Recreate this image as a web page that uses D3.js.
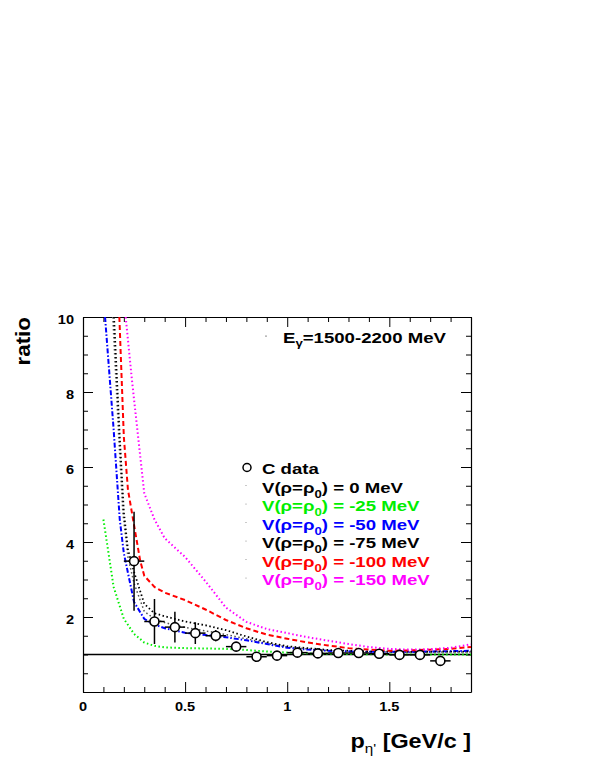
<!DOCTYPE html>
<html lang="en">
<head>
<meta charset="UTF-8">
<script src="https://d3js.org/d3.v7.min.js"></script>
<style>
  body { margin: 0; background: white; }
  text { font-family: "Liberation Sans", Arial, sans-serif; font-weight: bold; }
</style>
</head>
<body>
<div id="chart"></div>
<script>
// C data points
const dataX = [0.25, 0.35, 0.45, 0.55, 0.65, 0.75, 0.85, 0.95, 1.05, 1.15, 1.25, 1.35, 1.45, 1.55, 1.65, 1.75];
const dataY = [3.49, 1.88, 1.73, 1.57, 1.50, 1.21, 0.94, 0.97, 1.05, 1.03, 1.04, 1.04, 1.02, 0.99, 0.99, 0.83];
const dataErr = [1.32, 0.60, 0.41, 0.29, 0.15, 0.06, 0.04, 0.04, 0.04, 0.04, 0.04, 0.04, 0.04, 0.04, 0.04, 0.10];
const binHalf = 0.05;

// model curves
const v0X = [0.146, 0.175, 0.195, 0.22, 0.25, 0.3, 0.35, 0.4, 0.5, 0.6, 0.7, 0.8, 0.9, 1.0, 1.2, 1.4, 1.6, 1.9];
const v0Y = [10, 6.8, 4.8, 3.6, 2.9, 2.15, 1.95, 1.85, 1.72, 1.63, 1.53, 1.42, 1.3, 1.2, 1.1, 1.07, 1.06, 1.07];
const v25X = [0.1, 0.15, 0.2, 0.25, 0.3, 0.35, 0.4, 0.5, 0.6, 0.7, 0.8, 0.9, 1.0, 1.1, 1.2, 1.5, 1.9];
const v25Y = [4.6, 2.8, 1.95, 1.55, 1.32, 1.23, 1.19, 1.17, 1.16, 1.15, 1.12, 1.08, 1.05, 1.03, 1.02, 1.0, 1.0];
const v50X = [0.108, 0.15, 0.18, 0.2, 0.25, 0.3, 0.35, 0.4, 0.5, 0.6, 0.7, 0.8, 0.9, 1.0, 1.1, 1.2, 1.3, 1.5, 1.7, 1.9];
const v50Y = [10, 7.0, 4.6, 3.7, 2.4, 1.95, 1.8, 1.7, 1.58, 1.52, 1.46, 1.38, 1.28, 1.18, 1.13, 1.10, 1.08, 1.07, 1.08, 1.10];
const v75X = [0.152, 0.18, 0.2, 0.22, 0.25, 0.3, 0.35, 0.4, 0.5, 0.6, 0.7, 0.8, 0.9, 1.0, 1.2, 1.4, 1.6, 1.9];
const v75Y = [10, 6.8, 4.8, 3.8, 3.2, 2.35, 2.1, 2.02, 1.88, 1.78, 1.65, 1.48, 1.33, 1.22, 1.12, 1.08, 1.07, 1.08];
const v100X = [0.178, 0.2, 0.22, 0.25, 0.28, 0.3, 0.35, 0.4, 0.5, 0.6, 0.7, 0.8, 0.9, 1.0, 1.1, 1.2, 1.3, 1.4, 1.5, 1.6, 1.7, 1.8, 1.9];
const v100Y = [10, 6.8, 5.4, 4.45, 3.5, 3.1, 2.8, 2.65, 2.45, 2.2, 1.92, 1.7, 1.53, 1.42, 1.32, 1.24, 1.17, 1.13, 1.10, 1.11, 1.13, 1.15, 1.2];
const v150X = [0.209, 0.24, 0.27, 0.3, 0.35, 0.4, 0.5, 0.6, 0.7, 0.8, 0.9, 1.0, 1.1, 1.2, 1.3, 1.4, 1.5, 1.6, 1.7, 1.8, 1.9];
const v150Y = [10, 8.3, 6.8, 5.3, 4.6, 4.1, 3.6, 2.95, 2.25, 1.87, 1.68, 1.57, 1.46, 1.37, 1.28, 1.2, 1.15, 1.13, 1.14, 1.18, 1.27];

const xTicks = [0, 0.5, 1, 1.5];
const yTicks = [2, 4, 6, 8, 10];

const curves = [
  {x: v0X, y: v0Y, color: "#000000", stroke: "#555555", width: 1.5, dash: "1.5,2.5", label: "0 MeV"},
  {x: v25X, y: v25Y, color: "#00ee00", stroke: "#00ee00", width: 2, dash: "1.5,2.5", label: "-25 MeV"},
  {x: v50X, y: v50Y, color: "#0000ff", stroke: "#0000ff", width: 2, dash: "5,2,1.5,2", label: "-50 MeV"},
  {x: v75X, y: v75Y, color: "#000000", stroke: "#000000", width: 1.8, dash: "1.5,2.5", label: "-75 MeV"},
  {x: v100X, y: v100Y, color: "#ff0000", stroke: "#ff0000", width: 2, dash: "5,3", label: "-100 MeV"},
  {x: v150X, y: v150Y, color: "#ff00ff", stroke: "#ff00ff", width: 2, dash: "1.5,2.5", label: "-150 MeV"}
];

const W = 599, H = 775;
const fLeft = 83, fRight = 471, fTop = 317, fBottom = 692;
const stretch = 1.2; // text in the original is drawn a bit wide

const svg = d3.select("#chart").append("svg")
  .attr("width", W).attr("height", H);

const x = d3.scaleLinear().domain([0, 1.9]).range([fLeft, fRight]);
const y = d3.scaleLinear().domain([0, 10]).range([fBottom, fTop]);

// text helper: wide text anchored at (px,py)
function wideText(px, py, size, sx, anchor) {
  return svg.append("g").attr("transform", `translate(${px},${py}) scale(${sx},1)`)
    .append("text").attr("font-size", size).attr("text-anchor", anchor || "start");
}

// clip for curves
svg.append("clipPath").attr("id", "frame")
  .append("rect").attr("x", fLeft).attr("y", fTop)
  .attr("width", fRight - fLeft).attr("height", fBottom - fTop);

// axes: ticks inside on all four sides
const axB = d3.axisBottom(x).tickValues(d3.range(0, 1.9001, 0.1)).tickSizeInner(-5).tickSizeOuter(0).tickFormat("");
const axT = d3.axisTop(x).tickValues(d3.range(0, 1.9001, 0.1)).tickSizeInner(-5).tickSizeOuter(0).tickFormat("");
const axL = d3.axisLeft(y).tickValues(d3.range(0, 10.001, 0.5)).tickSizeInner(-5).tickSizeOuter(0).tickFormat("");
const axR = d3.axisRight(y).tickValues(d3.range(0, 10.001, 0.5)).tickSizeInner(-5).tickSizeOuter(0).tickFormat("");

function styleAxis(g, majors, scaleIsX, sign) {
  g.select(".domain").attr("stroke", "#000").attr("stroke-width", 1.2);
  g.selectAll(".tick line").attr("stroke", "#000").attr("stroke-width", 1)
    .each(function(d) {
      const major = majors.some(m => Math.abs(m - d) < 1e-6);
      if (major) d3.select(this).attr(scaleIsX ? "y2" : "x2", sign * 10);
    });
}

svg.append("g").attr("transform", `translate(0,${fBottom})`).call(axB)
  .call(g => styleAxis(g, xTicks, true, -1));
svg.append("g").attr("transform", `translate(0,${fTop})`).call(axT)
  .call(g => styleAxis(g, xTicks, true, 1));
svg.append("g").attr("transform", `translate(${fLeft},0)`).call(axL)
  .call(g => styleAxis(g, yTicks, false, 1));
svg.append("g").attr("transform", `translate(${fRight},0)`).call(axR)
  .call(g => styleAxis(g, yTicks, false, -1));

// tick labels
xTicks.forEach(t => wideText(x(t), 711, 13, 1.12, "middle").text(d3.format("")(t)));
yTicks.forEach(t => wideText(74, y(t) + 6.5, 13, 1.12, "end").text(t));

// axis titles
svg.append("g").attr("transform", `translate(30,${fTop}) rotate(-90) scale(1.12,1)`)
  .append("text").attr("text-anchor", "end").attr("font-size", 20).text("ratio");

const xt = wideText(fRight, 748, 20, 1.17, "end");
xt.append("tspan").text("p");
xt.append("tspan").attr("font-size", 13).attr("font-weight", "normal").attr("dy", 5).text("\u03b7'");
xt.append("tspan").attr("dy", -5).text(" [GeV/c ]");

// reference line at 1
svg.append("line")
  .attr("x1", x(0)).attr("x2", x(1.9)).attr("y1", y(1)).attr("y2", y(1))
  .attr("stroke", "#000").attr("stroke-width", 1.5);

// model curves
const line = d3.line().x(d => x(d[0])).y(d => y(d[1]));
const cg = svg.append("g").attr("clip-path", "url(#frame)");
curves.forEach(c => {
  cg.append("path")
    .datum(c.x.map((v, i) => [v, c.y[i]]))
    .attr("d", line)
    .attr("fill", "none")
    .attr("stroke", c.stroke)
    .attr("stroke-width", c.width)
    .attr("stroke-dasharray", c.dash);
});

// data points with error bars
const pts = svg.append("g");
const r = 4.5;
dataX.forEach((xv, i) => {
  const cx = x(xv), cy = y(dataY[i]);
  const up = y(dataY[i] + dataErr[i]), dn = y(dataY[i] - dataErr[i]);
  if (cy - up > r) pts.append("line").attr("x1", cx).attr("x2", cx).attr("y1", up).attr("y2", cy - r)
    .attr("stroke", "#000").attr("stroke-width", 1.5);
  if (dn - cy > r) pts.append("line").attr("x1", cx).attr("x2", cx).attr("y1", cy + r).attr("y2", dn)
    .attr("stroke", "#000").attr("stroke-width", 1.5);
  pts.append("line").attr("x1", x(xv - binHalf)).attr("x2", cx - r).attr("y1", cy).attr("y2", cy)
    .attr("stroke", "#000").attr("stroke-width", 1.5);
  pts.append("line").attr("x1", cx + r).attr("x2", x(xv + binHalf)).attr("y1", cy).attr("y2", cy)
    .attr("stroke", "#000").attr("stroke-width", 1.5);
  pts.append("circle").attr("cx", cx).attr("cy", cy).attr("r", r)
    .attr("fill", "white").attr("stroke", "#000").attr("stroke-width", 1.6);
});

// energy label
svg.append("circle").attr("cx", 266).attr("cy", 336).attr("r", 0.6).attr("fill", "#000");
const et = wideText(283, 343, 15.5, stretch);
et.append("tspan").text("E");
et.append("tspan").attr("font-size", 11).attr("dy", 4).text("\u03b3");
et.append("tspan").attr("dy", -4).text("=1500-2200 MeV");

// legend
const lx = 247, ly0 = 474, dy = 18.5;
svg.append("circle").attr("cx", lx).attr("cy", ly0 - 6.5).attr("r", 4)
  .attr("fill", "white").attr("stroke", "#000").attr("stroke-width", 1.5);
wideText(262, ly0, 15.5, stretch).text("C data");
curves.forEach((c, i) => {
  const by = ly0 + dy * (i + 1);
  svg.append("circle").attr("cx", lx - 1).attr("cy", by - 7).attr("r", 0.6).attr("fill", "#888");
  const t = wideText(262, by, 15.5, stretch).attr("fill", c.color);
  t.append("tspan").text("V(\u03c1=\u03c1");
  t.append("tspan").attr("font-size", 11).attr("dy", 5).text("0");
  t.append("tspan").attr("dy", -5).text(") = " + c.label);
});
</script>
</body>
</html>
